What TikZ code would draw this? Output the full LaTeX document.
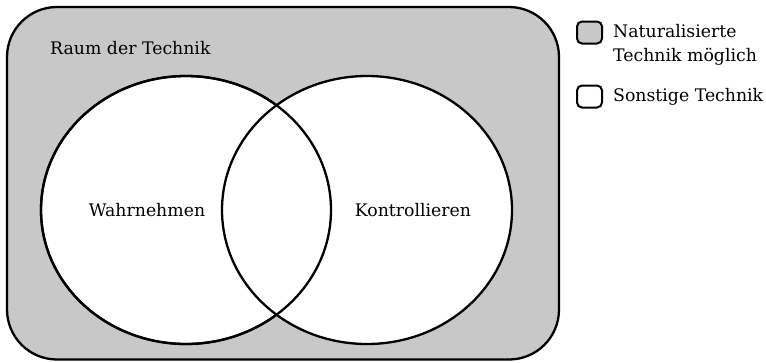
\documentclass[tikz,border=0pt]{standalone}
\usepackage{fontspec}
\setmainfont{DejaVu Serif}
\definecolor{natgray}{RGB}{200,200,200}
\begin{document}
\begin{tikzpicture}[x=1pt,y=-1pt,
  outline/.style={draw=black,line width=2.3pt},
  lbl/.style={font=\fontsize{17.3}{24.5}\selectfont,inner sep=0pt},
  legbox/.style={outline,line width=2pt,rounded corners=5pt,minimum width=25pt,minimum height=22pt,inner sep=0pt}]
\useasboundingbox (0,0) rectangle (766,362);
\draw[outline,fill=natgray,rounded corners=50pt] (7,7) rectangle (559,359.5);
\node[lbl,anchor=base west] (raum) at (50,54) {Raum der Technik};
\draw[outline,fill=white] (186,210) ellipse [x radius=145,y radius=134];
\draw[outline,fill=white] (367,210) ellipse [x radius=145,y radius=134];
\draw[outline] (186,210) ellipse [x radius=145,y radius=134];
\node[lbl] (wahr) at (147,210) {Wahrnehmen};
\node[lbl] (kont) at (413,210) {Kontrollieren};
\node[legbox,fill=natgray] (b1) at (589.5,32.5) {};
\node[legbox,fill=white] (b2) at (589.5,96.5) {};
\node[lbl,anchor=base west,align=left] (t1) at (613,61.5) {Naturalisierte\\Technik möglich};
\node[lbl,anchor=base west] (t2) at (613,101.5) {Sonstige Technik};
\end{tikzpicture}
\end{document}
